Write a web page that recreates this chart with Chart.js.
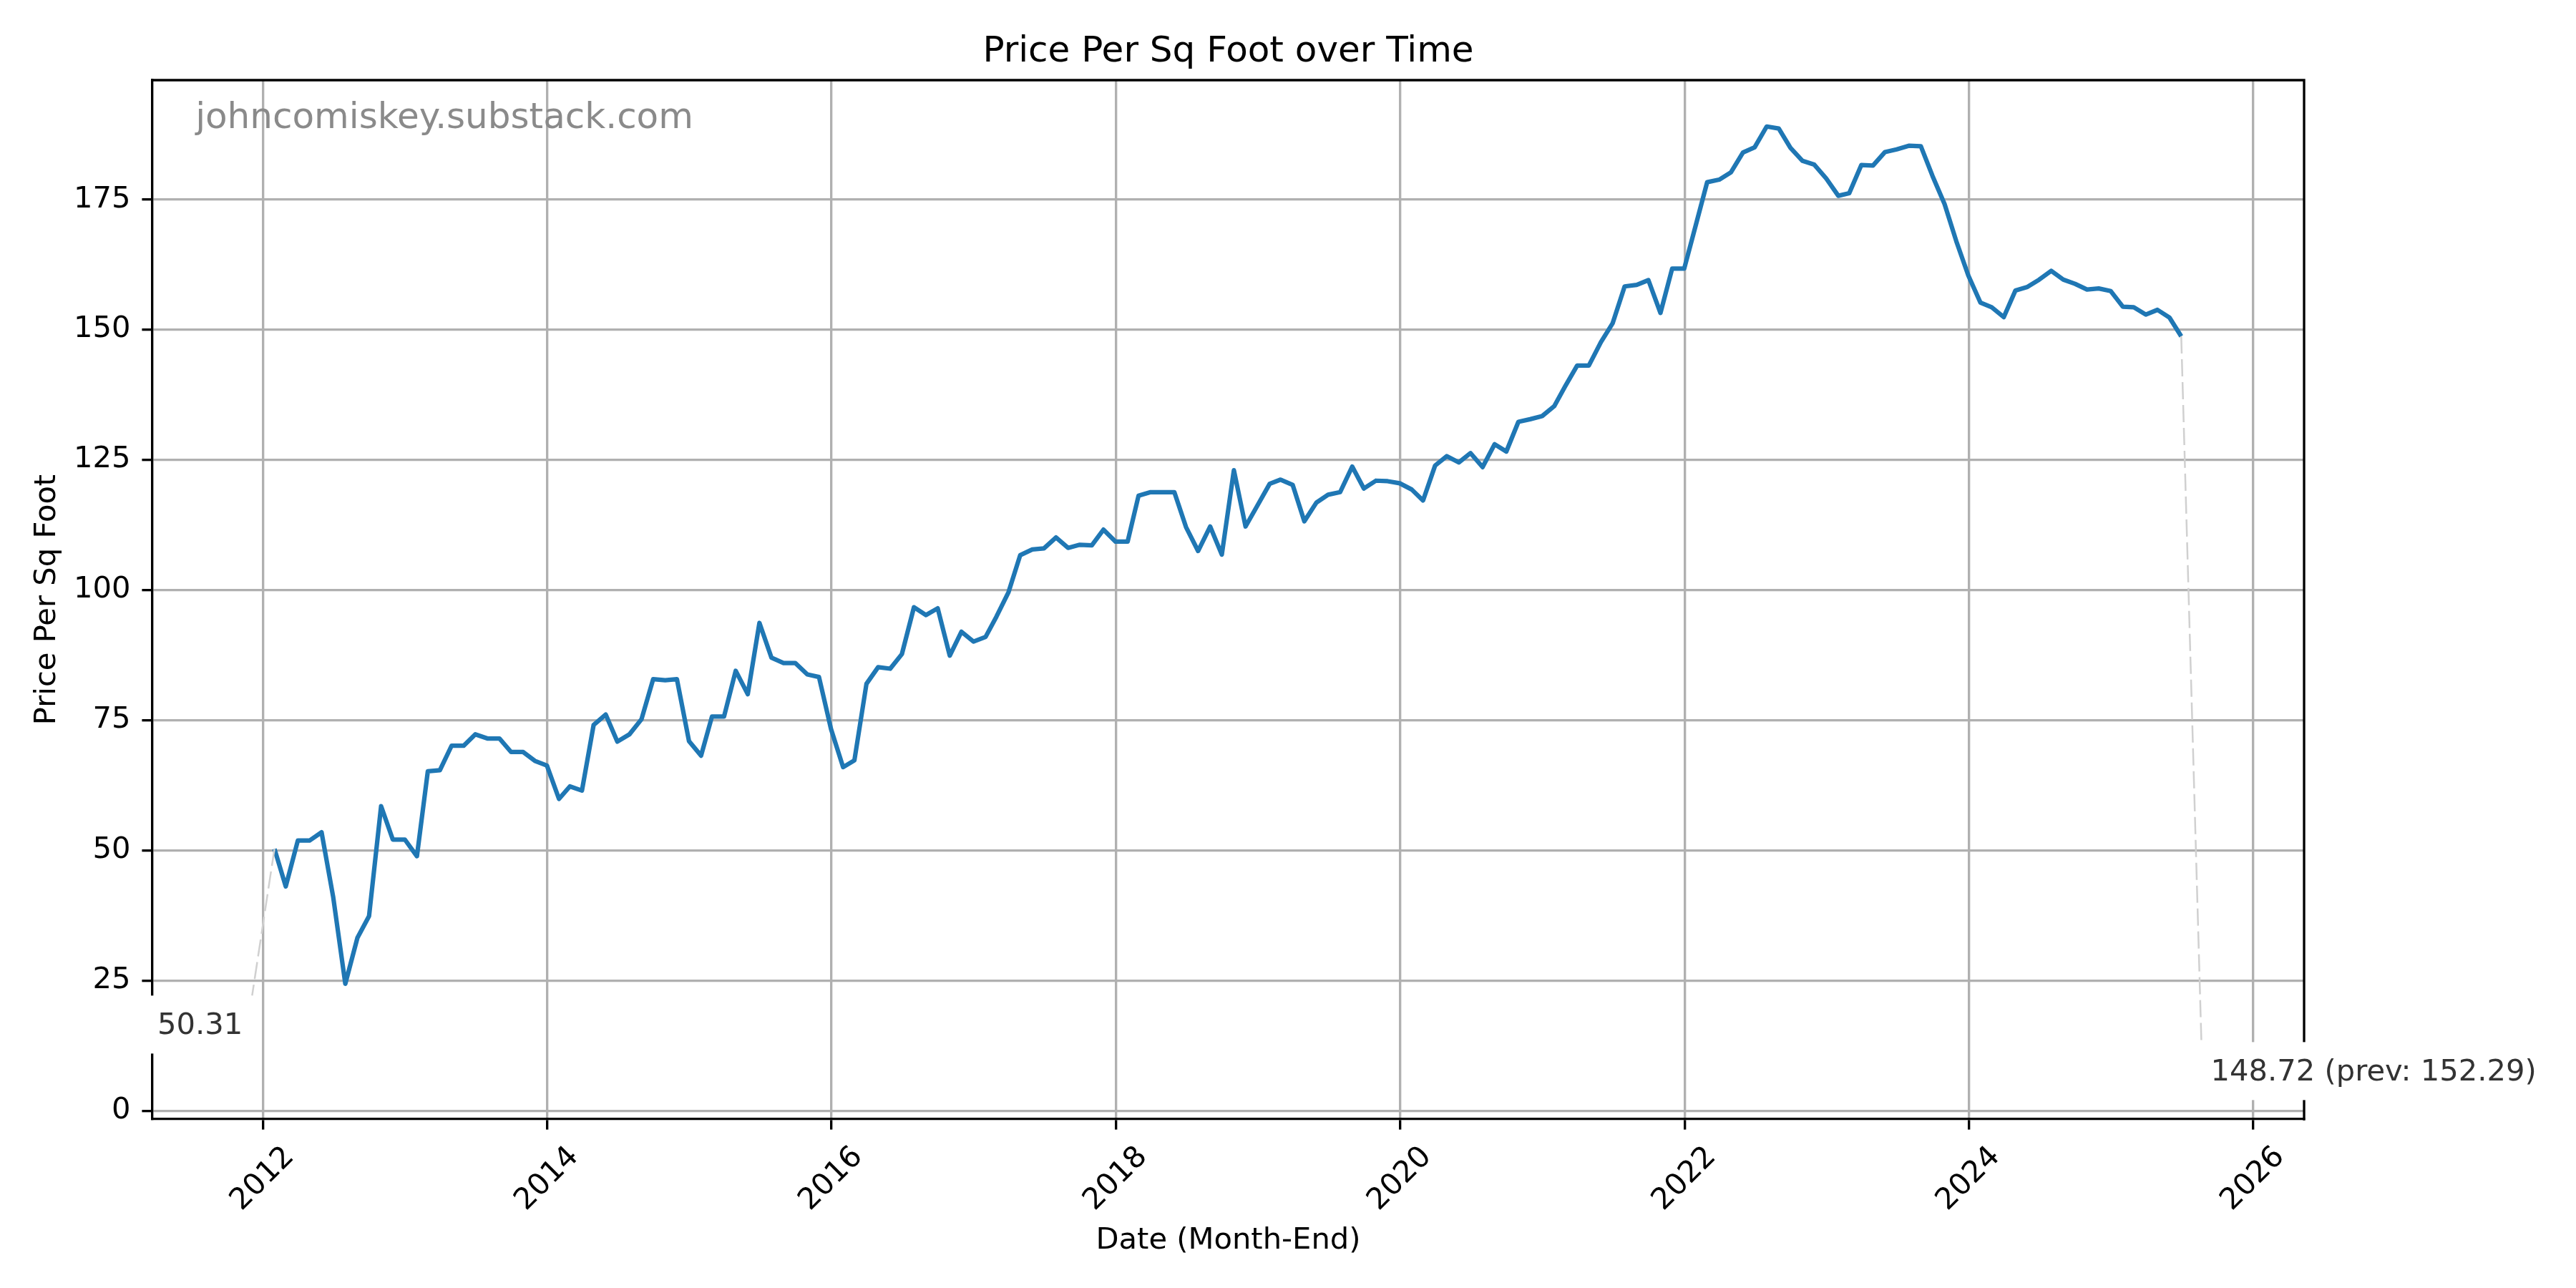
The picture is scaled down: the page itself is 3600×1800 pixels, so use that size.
<!DOCTYPE html>
<html>
<head>
<meta charset="utf-8">
<title>Price Per Sq Foot over Time</title>
<script src="https://cdn.jsdelivr.net/npm/chart.js@4.4.1/dist/chart.umd.min.js"></script>
<style>
    html, body { margin: 0; padding: 0; background: #fff; }
    #wrap { width: 3600px; height: 1800px; }
</style>
</head>
<body>
<div id="wrap"><canvas id="priceChart" width="3600" height="1800" style="width:3600px;height:1800px"></canvas></div>
<script>
// month-end price per sq foot, one array per year (Jan..Dec)
const years = [2012, 2013, 2014, 2015, 2016, 2017, 2018, 2019, 2020, 2021, 2022, 2023, 2024, 2025];
const price2012 = [50.31, 43.1, 51.9, 51.9, 53.5, 41.0, 24.4, 33.2, 37.4, 58.5, 52.1, 52.1];
const price2013 = [48.9, 65.2, 65.4, 70.1, 70.1, 72.3, 71.5, 71.5, 68.9, 68.9, 67.2, 66.3];
const price2014 = [59.9, 62.3, 61.5, 74.1, 76.1, 70.9, 72.3, 75.2, 82.9, 82.7, 82.9, 71.0];
const price2015 = [68.2, 75.7, 75.7, 84.5, 80.0, 93.7, 87.0, 86.0, 86.0, 83.8, 83.3, 73.3];
const price2016 = [66.0, 67.3, 82.0, 85.2, 84.9, 87.7, 96.7, 95.2, 96.5, 87.4, 92.0, 90.1];
const price2017 = [91.0, 94.9, 99.6, 106.7, 107.8, 108.0, 110.1, 108.1, 108.7, 108.6, 111.6, 109.3];
const price2018 = [109.3, 118.1, 118.8, 118.8, 118.8, 112.1, 107.5, 112.2, 106.8, 123.0, 112.2, 116.3];
const price2019 = [120.4, 121.2, 120.2, 113.2, 116.8, 118.3, 118.8, 123.7, 119.5, 121.0, 120.9, 120.5];
const price2020 = [119.3, 117.2, 123.9, 125.7, 124.5, 126.3, 123.6, 128.0, 126.6, 132.3, 132.8, 133.4];
const price2021 = [135.3, 139.1, 143.1, 143.1, 147.6, 151.2, 158.3, 158.6, 159.5, 153.2, 161.7, 161.7];
const price2022 = [170.4, 178.3, 178.8, 180.2, 184.0, 185.0, 189.0, 188.6, 184.9, 182.4, 181.7, 179.0];
const price2023 = [175.7, 176.2, 181.6, 181.5, 184.1, 184.6, 185.3, 185.2, 179.5, 174.1, 167.0, 160.4];
const price2024 = [155.2, 154.3, 152.4, 157.5, 158.2, 159.6, 161.3, 159.6, 158.8, 157.7, 157.9, 157.4];
const price2025 = [154.4, 154.3, 152.9, 153.8, 152.29, 148.72];
const priceByYear = [price2012, price2013, price2014, price2015, price2016, price2017, price2018,
                     price2019, price2020, price2021, price2022, price2023, price2024, price2025];

const xTickYears = [2012, 2014, 2016, 2018, 2020, 2022, 2024, 2026];
const yTicks = [0, 25, 50, 75, 100, 125, 150, 175];

const DAY = 86400000;
const FONT = '"DejaVu Sans", sans-serif';
const FS = 41.67;     // 10pt at 300 dpi
const LW = 3.33;      // 0.8pt

function yearToDay(yr) {
    const y0 = Math.floor(yr);
    const start = Date.UTC(y0, 0, 1), end = Date.UTC(y0 + 1, 0, 1);
    return (start + (yr - y0) * (end - start)) / DAY;
}

const points = [];
years.forEach((yr, i) => {
    priceByYear[i].forEach((v, m) => {
        points.push({ x: Date.UTC(yr, m + 1, 0) / DAY, y: v });
    });
});
const n = points.length;

// label placement for the two end notes (data units)
const notes = [
    { idx: 0, text: points[0].y.toFixed(2), cx: 2011.559, base: 14.72 },
    { idx: n - 1, text: `${points[n - 1].y.toFixed(2)} (prev: ${points[n - 2].y.toFixed(2)})`, cx: 2026.847, base: 5.79 }
];

const decorations = {
    id: 'decorations',
    afterDraw(chart) {
        const { ctx, chartArea: a, scales: { x, y } } = chart;
        ctx.save();

        // top and right spines
        ctx.strokeStyle = '#000';
        ctx.lineWidth = LW;
        ctx.lineCap = 'square';
        ctx.beginPath();
        ctx.moveTo(a.left, a.top);
        ctx.lineTo(a.right, a.top);
        ctx.lineTo(a.right, a.bottom);
        ctx.stroke();

        // title
        ctx.fillStyle = '#000';
        ctx.font = `50px ${FONT}`;
        ctx.textAlign = 'center';
        ctx.textBaseline = 'alphabetic';
        ctx.fillText('Price Per Sq Foot over Time', (a.left + a.right) / 2, 86);

        // rotated x tick labels
        ctx.font = `${FS}px ${FONT}`;
        xTickYears.forEach(yr => {
            const px = x.getPixelForValue(yearToDay(yr));
            const label = String(yr);
            const w = ctx.measureText(label).width;
            const h = FS * 1.17;
            ctx.save();
            ctx.translate(px, a.bottom + 29.2 + (w + h) * Math.SQRT1_2 / 2);
            ctx.rotate(-Math.PI / 4);
            ctx.textAlign = 'center';
            ctx.textBaseline = 'middle';
            ctx.fillText(label, 0, 0);
            ctx.restore();
        });

        // axis titles
        ctx.textAlign = 'center';
        ctx.textBaseline = 'alphabetic';
        ctx.fillText('Date (Month-End)', (a.left + a.right) / 2, 1745);
        ctx.save();
        ctx.translate(77, (a.top + a.bottom) / 2);
        ctx.rotate(-Math.PI / 2);
        ctx.fillText('Price Per Sq Foot', 0, 0);
        ctx.restore();

        // watermark
        ctx.fillStyle = '#8a8a8a';
        ctx.font = `50px ${FONT}`;
        ctx.textAlign = 'left';
        ctx.fillText('johncomiskey.substack.com', a.left + 0.02 * (a.right - a.left), 179);

        // end notes with dashed leaders
        ctx.font = `${FS}px ${FONT}`;
        notes.forEach(nt => {
            const p = points[nt.idx];
            const px = x.getPixelForValue(p.x), py = y.getPixelForValue(p.y);
            const tx = x.getPixelForValue(yearToDay(nt.cx));
            const ty = y.getPixelForValue(nt.base);
            const w = ctx.measureText(nt.text).width;
            const box = { l: tx - w / 2 - 13, r: tx + w / 2 + 13, t: ty - 54, b: ty + 27 };
            const corners = [[box.l, box.t], [box.r, box.t], [box.l, box.b], [box.r, box.b]];
            let best = corners[0], bd = Infinity;
            corners.forEach(c => {
                const d = Math.hypot(c[0] - px, c[1] - py);
                if (d < bd) { bd = d; best = c; }
            });
            ctx.save();
            ctx.strokeStyle = '#d0d0d0';
            ctx.lineWidth = 2.5;
            ctx.setLineDash([24, 8]);
            ctx.lineCap = 'butt';
            ctx.beginPath();
            ctx.moveTo(px, py);
            ctx.lineTo(best[0], best[1]);
            ctx.stroke();
            ctx.restore();

            ctx.fillStyle = '#fff';
            ctx.fillRect(box.l, box.t, box.r - box.l, box.b - box.t);
            ctx.fillStyle = '#333';
            ctx.textAlign = 'center';
            ctx.textBaseline = 'alphabetic';
            ctx.fillText(nt.text, tx, ty);
        });

        ctx.restore();
    }
};

Chart.defaults.font.family = FONT;

new Chart(document.getElementById('priceChart').getContext('2d'), {
    type: 'line',
    data: {
        datasets: [{
            label: 'Price Per Sq Foot',
            data: points,
            borderColor: '#1f77b4',
            borderWidth: 6.25,
            pointRadius: 0,
            tension: 0,
            borderJoinStyle: 'round',
            fill: false
        }]
    },
    options: {
        responsive: false,
        devicePixelRatio: 1,
        animation: false,
        layout: { padding: { top: 112, right: 380, left: 0, bottom: 0 } },
        plugins: {
            legend: { display: false },
            tooltip: { enabled: false },
            title: { display: false }
        },
        scales: {
            x: {
                type: 'linear',
                min: yearToDay(2011.223),
                max: yearToDay(2026.358),
                afterBuildTicks: scale => { scale.ticks = xTickYears.map(yr => ({ value: yearToDay(yr) })); },
                afterFit: scale => { scale.height = 236; },
                ticks: { display: false, autoSkip: false },
                grid: { color: '#b0b0b0', lineWidth: LW, tickColor: '#000', tickWidth: LW, tickLength: 14.6 },
                border: { display: true, color: '#000', width: LW }
            },
            y: {
                type: 'linear',
                min: -1.58,
                max: 197.9,
                afterBuildTicks: scale => { scale.ticks = yTicks.map(v => ({ value: v })); },
                afterFit: scale => { scale.width = 213; },
                ticks: {
                    autoSkip: false,
                    color: '#000',
                    padding: 16,
                    font: { size: FS, family: FONT },
                    callback: v => String(v)
                },
                grid: { color: '#b0b0b0', lineWidth: LW, tickColor: '#000', tickWidth: LW, tickLength: 14.6 },
                border: { display: true, color: '#000', width: LW }
            }
        }
    },
    plugins: [decorations]
});
</script>
</body>
</html>
